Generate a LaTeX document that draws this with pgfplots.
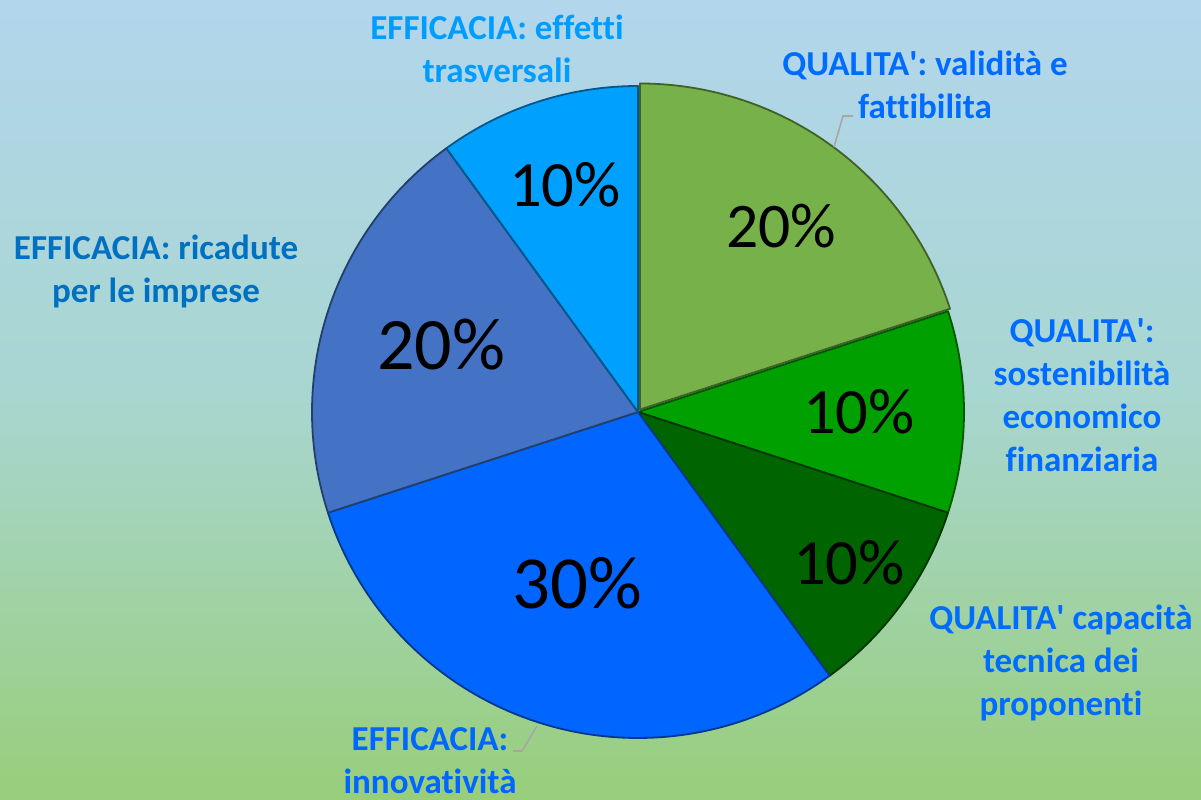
\documentclass[border=0pt]{standalone}
\usepackage{pgfplots}
\pgfplotsset{compat=1.18}
\usepackage{pgfplotstable}
\usepackage{fontspec}
\setmainfont{Carlito}[Ligatures={NoCommon}]

\definecolor{bgtop}{RGB}{178,214,236}
\definecolor{bgmid}{RGB}{168,214,208}
\definecolor{bgbot}{RGB}{152,206,122}
\definecolor{s1}{RGB}{119,177,73}
\definecolor{s2}{RGB}{0,160,0}
\definecolor{s3}{RGB}{0,100,0}
\definecolor{s4}{RGB}{0,102,255}
\definecolor{s5}{RGB}{68,114,196}
\definecolor{s6}{RGB}{0,160,255}
\definecolor{lbq}{RGB}{0,108,255}
\definecolor{lbea}{RGB}{0,156,255}
\definecolor{lbeb}{RGB}{0,112,192}
\definecolor{lbec}{RGB}{0,102,255}
\definecolor{leader}{RGB}{166,166,166}

% slice share (%), colour, label position (px), label size (pt), explode offset (px)
\pgfplotstableread{
pct col lx ly fs dx dy
20 s1 781 573 31.8 2 2.5
10 s2 859 387 32.3 0 0
10 s3 849 236 32.3 0 0
30 s4 577 216 37.5 0 0
20 s5 441 454 37 0 0
10 s6 565 614 32.3 0 0
}\piedata

\newcommand{\q}{\textquotesingle}

\begin{document}
\begin{tikzpicture}
\begin{axis}[hide axis, scale only axis, width=600.5pt, height=399.5pt,
  xmin=0, xmax=1201, ymin=0, ymax=799, clip=false]
\fill[top color=bgtop, bottom color=bgbot, middle color=bgmid]
  (axis cs:0,0) rectangle (axis cs:1201,799);
\def\cum{0}
\pgfplotsforeachungrouped \i in {0,...,5}{%
  \pgfplotstablegetelem{\i}{pct}\of\piedata\let\p\pgfplotsretval
  \pgfplotstablegetelem{\i}{col}\of\piedata\let\c\pgfplotsretval
  \pgfplotstablegetelem{\i}{dx}\of\piedata\let\dx\pgfplotsretval
  \pgfplotstablegetelem{\i}{dy}\of\piedata\let\dy\pgfplotsretval
  \pgfmathsetmacro\a{90-3.6*\cum}%
  \pgfmathsetmacro\b{\a-3.6*\p}%
  \pgfmathsetmacro\cx{638+\dx}%
  \pgfmathsetmacro\cy{387+\dy}%
  \edef\cmd{\noexpand\addplot[fill=\c, draw=\c!55!black, line width=0.9pt,
    line join=round, domain=\b:\a, samples=120]
    ({\cx+326*cos(\noexpand\x)},{\cy+326*sin(\noexpand\x)})
    -- (axis cs:\cx,\cy) -- cycle;}%
  \cmd
  \pgfmathsetmacro\cum{\cum+\p}%
}
\pgfplotsforeachungrouped \i in {0,...,5}{%
  \pgfplotstablegetelem{\i}{pct}\of\piedata\let\p\pgfplotsretval
  \pgfplotstablegetelem{\i}{lx}\of\piedata\let\lx\pgfplotsretval
  \pgfplotstablegetelem{\i}{ly}\of\piedata\let\ly\pgfplotsretval
  \pgfplotstablegetelem{\i}{fs}\of\piedata\let\fs\pgfplotsretval
  \edef\cmd{\noexpand\node[text=black, inner sep=0pt,
    font={\noexpand\fontsize{\fs}{\fs}\noexpand\selectfont}]
    at (axis cs:\lx,\ly) {\p\noexpand\%};}%
  \cmd
}
% leader lines
\draw[leader, line width=0.8pt] (axis cs:853,683) -- (axis cs:843,683) -- (axis cs:834,652);
\draw[leader, line width=0.8pt] (axis cs:513,48) -- (axis cs:522,48) -- (axis cs:537,73);
% category labels
\tikzset{cat/.style={anchor=north, align=center, inner sep=0pt,
  font={\fontsize{17.5}{21.5}\selectfont\bfseries}}}
\node[cat, text=lbea] at (axis cs:497,784) {EFFICACIA: effetti\\trasversali};
\node[cat, text=lbq] at (axis cs:925,748) {QUALITA\q: validità e\\fattibilita};
\node[cat, text=lbeb] at (axis cs:156,564) {EFFICACIA: ricadute\\per le imprese};
\node[cat, text=lbq] at (axis cs:1082,481) {QUALITA\q:\\sostenibilità\\economico\\finanziaria};
\node[cat, text=lbq] at (axis cs:1061,194) {QUALITA\q{} capacità\\tecnica dei\\proponenti};
\node[cat, text=lbec] at (axis cs:430,72) {EFFICACIA:\\innovatività};
\end{axis}
\pgfresetboundingbox
\path[use as bounding box] (current axis.south west) rectangle (current axis.north east);
\end{tikzpicture}
\end{document}
